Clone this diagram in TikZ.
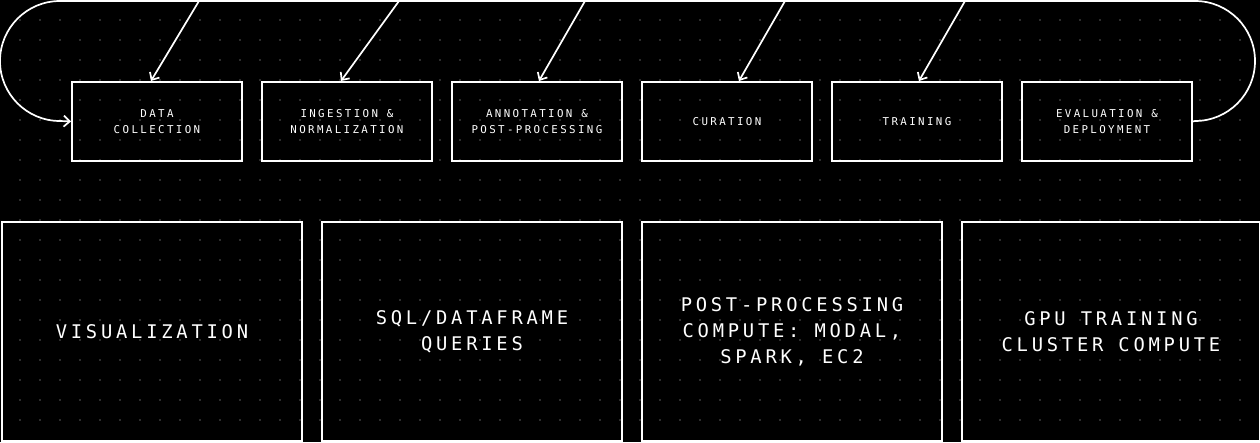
\documentclass[tikz,border=0pt]{standalone}
\usepackage{fontspec}
\newfontfamily\smallmono[LetterSpace=22]{DejaVu Sans Mono}
\newfontfamily\bigmono[LetterSpace=20]{DejaVu Sans Mono}
\usetikzlibrary{arrows.meta}
\begin{document}
\begin{tikzpicture}[x=1pt,y=-1pt,
  stage/.style={draw=white,line width=1.9pt,minimum width=170pt,minimum height=79pt,inner sep=0pt,anchor=north west,text=white,align=center,font=\smallmono\fontsize{10.8}{16}\selectfont},
  tool/.style={draw=white,line width=1.9pt,minimum height=219pt,inner sep=0pt,anchor=north west,text=white,align=center,font=\bigmono\fontsize{18.8}{26}\selectfont},
  flow/.style={draw=white,line width=1.7pt,-{Straight Barb[length=6pt,width=11pt]}}]
\fill[black] (0,0) rectangle (1260,442);
\useasboundingbox (0,0) rectangle (1260,442);
\foreach \i in {1,...,62}{\foreach \j in {1,...,21}{\fill[gray!45] (20*\i,20*\j) circle (0.6pt);}}
\node[stage] (s1) at (71,81) {DATA\\COLLECTION};
\node[stage] (s2) at (261,81) {INGESTION \&\\NORMALIZATION};
\node[stage] (s3) at (451,81) {ANNOTATION \&\\POST-PROCESSING};
\node[stage] (s4) at (641,81) {CURATION};
\node[stage] (s5) at (831,81) {TRAINING};
\node[stage] (s6) at (1021,81) {EVALUATION \&\\DEPLOYMENT};
\node[tool,minimum width=300pt] (t1) at (1,221) {VISUALIZATION};
\node[tool,minimum width=300pt] (t2) at (321,221) {SQL/DATAFRAME\\QUERIES};
\node[tool,minimum width=300pt] (t3) at (641,221) {POST-PROCESSING\\COMPUTE: MODAL,\\SPARK, EC2};
\node[tool,minimum width=298pt] (t4) at (961,221) {GPU TRAINING\\CLUSTER COMPUTE};
\draw[flow] (s6.east) -- (1195,121) arc (90:-90:60) -- (60,1) arc (-90:-270:60) -- (s1.west);
\foreach \x/\n/\d in {199/s1/-6,399/s2/-6,585/s3/2,785/s4/12,965/s5/2}{
  \coordinate (c\n) at (\x,1);
  \draw[flow] (c\n) -- ([xshift=\d pt]\n.north);}
\end{tikzpicture}
\end{document}
